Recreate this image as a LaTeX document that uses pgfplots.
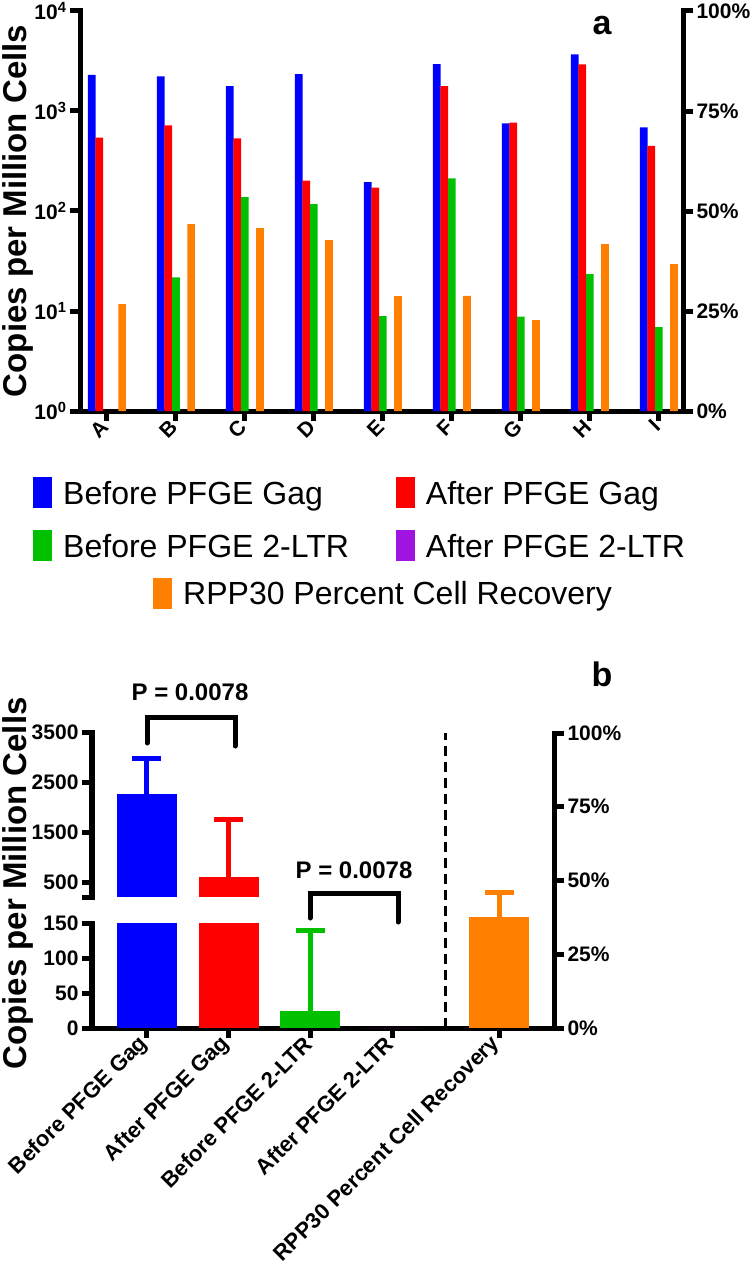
\documentclass[border=0pt]{standalone}
\usepackage{pgfplots}
\pgfplotsset{compat=1.18}
\usepackage{fontspec}
\setmainfont{Liberation Sans}
\definecolor{cblue}{RGB}{0,0,255}
\definecolor{cred}{RGB}{255,0,0}
\definecolor{cgreen}{RGB}{0,192,0}
\definecolor{cpurple}{RGB}{160,20,225}
\definecolor{corange}{RGB}{255,128,0}
\newcommand{\tlfont}{\fontsize{21}{21}\selectfont\bfseries}
\newcommand{\labfont}{\fontsize{33}{33}\selectfont\bfseries}
\pgfplotsset{
  base/.style={
    scale only axis,
    axis line style={line width=5pt,line cap=rect,-},
    every tick/.style={line width=5pt,black},
    major tick length=10pt,
    tick align=outside,
    ticklabel style={font=\tlfont},
  },
  sqleg/.style={legend image code/.code={\fill[##1] (0pt,-15.5pt) rectangle (19pt,15.5pt);}},
  ebar/.style={/pgfplots/error bars/y dir=plus, /pgfplots/error bars/y explicit,
     /pgfplots/error bars/error bar style={line width=5pt, draw=#1},
     /pgfplots/error bars/error mark=-,
     /pgfplots/error bars/error mark options={rotate=90, line width=5pt, draw=#1, mark size=14.5pt}},
}
\begin{document}
\begin{tikzpicture}
\useasboundingbox (0pt,0pt) rectangle (750pt,-1281pt);
% ---------- panel a : copies (log) ----------
\begin{axis}[base, at={(80pt,-411pt)}, anchor=south west, width=603pt, height=400pt,
  ymode=log, ymin=1, ymax=10000, xmin=-0.39, xmax=8.35,
  axis x line*=bottom, axis y line*=left, yminorticks=false,
  ytick={1,10,100,1000,10000},
  yticklabels={10\textsuperscript{0},10\textsuperscript{1},10\textsuperscript{2},10\textsuperscript{3},10\textsuperscript{4}},
  xtick={0,1,2,3,4,5,6,7,8}, xticklabels={A,B,C,D,E,F,G,H,I},
  xticklabel style={rotate=45, anchor=east},
  ylabel={Copies per Million Cells},
  every axis y label/.style={at={(axis description cs:-0.1294,0.5)}, rotate=90, anchor=north, inner sep=0pt, font=\labfont},
  legend columns=2, legend cell align=left,
  legend style={draw=none, fill=none, inner sep=0pt, font=\fontsize{32}{32}\selectfont,
    at={(-0.0779,-0.165)}, anchor=north west,
    nodes={inner sep=0pt, text height=26pt, text depth=3pt},
    /tikz/every odd column/.append style={column sep=11pt},
    /tikz/every even column/.append style={column sep=47pt},
    row sep=22pt},
]
\addplot[ybar, bar width=7.7pt, bar shift=-15.2pt, fill=cblue, draw=none, sqleg]
  coordinates {(0,2291) (1,2223) (2,1778) (3,2344) (4,194) (5,2951) (6,753) (7,3690) (8,687)};
\addlegendentry{Before PFGE Gag}
\addplot[ybar, bar width=7.7pt, bar shift=-7.6pt, fill=cred, draw=none, sqleg]
  coordinates {(0,541) (1,719) (2,533) (3,201) (4,171) (5,1778) (6,764) (7,2931) (8,447)};
\addlegendentry{After PFGE Gag}
\addplot[ybar, bar width=7.7pt, bar shift=0pt, fill=cgreen, draw=none, sqleg]
  coordinates {(1,21.7) (2,138) (3,117) (4,8.9) (5,212) (6,8.8) (7,23.4) (8,6.9)};
\addlegendentry{Before PFGE 2-LTR}
\addlegendimage{fill=cpurple, draw=none, sqleg}
\addlegendentry{After PFGE 2-LTR}
\end{axis}
% ---------- panel a : percent ----------
\begin{axis}[base, at={(80pt,-411pt)}, anchor=south west, width=603pt, height=400pt,
  ymin=0, ymax=100, xmin=-0.39, xmax=8.35,
  axis x line=none, axis y line*=right, xtick=\empty,
  ytick={0,25,50,75,100}, yticklabels={0\%,25\%,50\%,75\%,100\%},
  legend cell align=left,
  legend style={draw=none, fill=none, inner sep=0pt, font=\fontsize{32}{32}\selectfont,
    at={(0.1211,-0.41625)}, anchor=north west,
    nodes={inner sep=0pt, text height=26pt, text depth=3pt},
    /tikz/every odd column/.append style={column sep=11pt}},
]
\addplot[ybar, bar width=7.7pt, bar shift=15.2pt, fill=corange, draw=none, sqleg]
  coordinates {(0,26.75) (1,46.75) (2,45.75) (3,42.75) (4,28.75) (5,28.8) (6,22.75) (7,41.75) (8,36.75)};
\addlegendentry{RPP30 Percent Cell Recovery}
\end{axis}
% ---------- panel b : upper segment ----------
\begin{axis}[base, at={(92pt,-897pt)}, anchor=south west, width=462pt, height=165pt,
  ymin=200, ymax=3500, xmin=-0.673, xmax=4.983,
  axis x line=none, axis y line*=left, xtick=\empty,
  ytick={200,500,1500,2500,3500}, yticklabels={,500,1500,2500,3500},
]
\addplot[ybar, bar width=60pt, bar shift=0pt, fill=cblue, draw=none, ebar=cblue]
  coordinates {(0,2254) +- (0,720)};
\addplot[ybar, bar width=60pt, bar shift=0pt, fill=cred, draw=none, ebar=cred]
  coordinates {(1,593) +- (0,1167)};
\end{axis}
% ---------- panel b : lower segment ----------
\begin{axis}[base, at={(92pt,-1028pt)}, anchor=south west, width=462pt, height=105pt,
  ymin=0, ymax=150, xmin=-0.673, xmax=4.983,
  axis x line*=bottom, axis y line*=left,
  ytick={0,50,100,150}, yticklabels={0,50,100,150},
  xtick={0,1,2,3,4.31},
  xticklabels={Before PFGE Gag,After PFGE Gag,Before PFGE 2-LTR,After PFGE 2-LTR,RPP30 Percent Cell Recovery},
  xticklabel style={rotate=45, anchor=east, font=\fontsize{22}{22}\selectfont\bfseries},
]
\addplot[ybar, bar width=60pt, bar shift=0pt, fill=cblue, draw=none] coordinates {(0,2254)};
\addplot[ybar, bar width=60pt, bar shift=0pt, fill=cred, draw=none] coordinates {(1,593)};
\addplot[ybar, bar width=60pt, bar shift=0pt, fill=cgreen, draw=none, ebar=cgreen]
  coordinates {(2,24.3) +- (0,115.7)};
\addplot[ybar, bar width=60pt, bar shift=0pt, fill=cpurple, draw=none] coordinates {(3,0)};
\end{axis}
% ---------- panel b : percent ----------
\begin{axis}[base, at={(92pt,-1028pt)}, anchor=south west, width=462pt, height=295pt,
  ymin=0, ymax=100, xmin=-0.673, xmax=4.983,
  axis x line=none, axis y line*=right, xtick=\empty,
  ytick={0,25,50,75,100}, yticklabels={0\%,25\%,50\%,75\%,100\%},
  ylabel={Copies per Million Cells},
  every axis y label/.style={at={(axis description cs:-0.1948,0.49)}, rotate=90, anchor=north, inner sep=0pt, font=\labfont},
]
\addplot[ybar, bar width=60pt, bar shift=0pt, fill=corange, draw=none, ebar=corange]
  coordinates {(4.31,37.5) +- (0,8.4)};
\addplot[black, line width=3pt, dash pattern=on 10pt off 6pt] coordinates {(3.66,0) (3.66,100)};
\end{axis}
% ---------- annotations ----------
\draw[line width=5pt, line cap=round] (147pt,-743pt) |- (235pt,-717pt) -- (235pt,-746pt);
\draw[line width=5pt, line cap=round] (310pt,-918pt) |- (398pt,-893pt) -- (398pt,-922pt);
\node[font=\fontsize{24}{24}\selectfont\bfseries] at (190pt,-692pt) {P = 0.0078};
\node[font=\fontsize{24}{24}\selectfont\bfseries] at (354pt,-870pt) {P = 0.0078};
\node[font=\fontsize{34}{34}\selectfont\bfseries] at (602pt,-26pt) {a};
\node[font=\fontsize{34}{34}\selectfont\bfseries] at (602pt,-674pt) {b};
\end{tikzpicture}
\end{document}
